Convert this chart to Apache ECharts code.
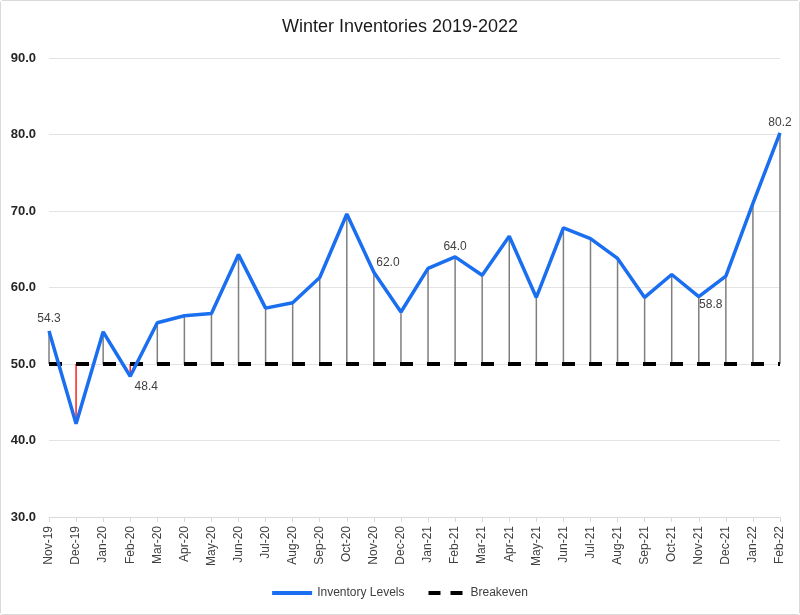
<!DOCTYPE html>
<html>
<head>
<meta charset="utf-8">
<script src="https://cdn.jsdelivr.net/npm/echarts@6/dist/echarts.min.js"></script>
<style>
html,body{margin:0;padding:0;background:#fff;}
#c{position:absolute;left:0;top:0;width:798px;height:613px;border:1px solid #d9d9d9;border-radius:3px;}
</style>
</head>
<body>
<div id="c"></div>
<script>
const categories = ["Nov-19","Dec-19","Jan-20","Feb-20","Mar-20","Apr-20","May-20","Jun-20","Jul-20","Aug-20","Sep-20","Oct-20","Nov-20","Dec-20","Jan-21","Feb-21","Mar-21","Apr-21","May-21","Jun-21","Jul-21","Aug-21","Sep-21","Oct-21","Nov-21","Dec-21","Jan-22","Feb-22"];
const inventoryLevels = [54.3,42.2,54.2,48.4,55.4,56.3,56.6,64.3,57.3,58.0,61.3,69.6,62.0,56.8,62.5,64.0,61.6,66.7,58.7,67.8,66.4,63.8,58.7,61.7,58.8,61.5,71.0,80.2];
const breakeven = [50,50,50,50,50,50,50,50,50,50,50,50,50,50,50,50,50,50,50,50,50,50,50,50,50,50,50,50];
const labeledMonths = ["Nov-19","Feb-20","Nov-20","Feb-21","Nov-21","Feb-22"];
const yTicks = [30,40,50,60,70,80,90];

const labelStyle = {
  "Nov-19": {position:'top', offset:[0,-2]},
  "Feb-20": {position:'bottom', offset:[16,0]},
  "Nov-20": {position:'top', offset:[14,0]},
  "Feb-21": {position:'top', offset:[0,0]},
  "Nov-21": {position:'bottom', offset:[12,-2]},
  "Feb-22": {position:'top', offset:[0,0]}
};

const hiddenItem = {color:'rgba(0,0,0,0)', borderWidth:0, borderColor:'rgba(0,0,0,0)'};
const lineData = inventoryLevels.map((v,i)=>{
  const c = categories[i];
  if (labeledMonths.includes(c)) {
    const s = labelStyle[c];
    return {value:v, itemStyle:hiddenItem, label:{show:true, position:s.position, offset:s.offset, distance:2, formatter:(p)=>Number(p.value).toFixed(1), color:'#404040', fontSize:12, fontFamily:'Liberation Sans'}};
  }
  return {value:v, itemStyle:hiddenItem};
});

const dropData = inventoryLevels.map((v,i)=>[i, v, breakeven[i]]);

const chart = echarts.init(document.getElementById('c'), null, {renderer:'canvas'});
chart.setOption({
  animation:false,
  backgroundColor:'#fff',
  title:{
    text:'Winter Inventories 2019-2022',
    left:'center', top:12,
    textStyle:{fontFamily:'Liberation Sans', fontWeight:'normal', fontSize:18, color:'#1a1a1a'}
  },
  legend:{
    bottom:10, left:'center', itemWidth:40, itemHeight:4, itemGap:24,
    textStyle:{fontFamily:'Liberation Sans', fontSize:12, color:'#404040'},
    data:[
      {name:'Inventory Levels', icon:'path://M0,0 L40,0 L40,4 L0,4 Z', itemStyle:{color:'#1a6ef0', opacity:1}},
      {name:'Breakeven', icon:'path://M0,0 L12,0 L12,4 L0,4 Z M22,0 L34,0 L34,4 L22,4 Z', itemStyle:{color:'#000', opacity:1}}
    ]
  },
  grid:{left:48, right:19, top:57, bottom:97, containLabel:false},
  xAxis:{
    type:'category', data:categories, boundaryGap:false,
    axisLine:{lineStyle:{color:'#d9d9d9'}},
    axisTick:{show:true, lineStyle:{color:'#d9d9d9'}, length:5},
    axisLabel:{rotate:90, color:'#404040', fontSize:12, fontFamily:'Liberation Sans', margin:9, interval:0},
    splitLine:{show:false}
  },
  yAxis:{
    type:'value', min:yTicks[0], max:yTicks[yTicks.length-1], interval:10,
    axisLine:{show:false}, axisTick:{show:false},
    axisLabel:{formatter:(v)=>v.toFixed(1), color:'#262626', fontWeight:'bold', fontSize:13, fontFamily:'Liberation Sans', margin:13},
    splitLine:{lineStyle:{color:'#e3e3e3', width:1}}
  },
  series:[
    {
      name:'drops', type:'custom', z:1, silent:true,
      data:dropData,
      encode:{x:0, y:1},
      renderItem:(params, api)=>{
        const i = api.value(0), v = api.value(1), b = api.value(2);
        const p1 = api.coord([i, b]);
        const p2 = api.coord([i, v]);
        return {type:'line', shape:{x1:p1[0], y1:p1[1], x2:p2[0], y2:p2[1]},
          style:{stroke: v < b ? '#ff1f1f' : '#7f7f7f', lineWidth:1.5}};
      }
    },
    {
      name:'Breakeven', type:'line', data:breakeven, z:2,
      symbol:'none', color:'#000',
      lineStyle:{color:'#000', width:4, type:[13,14]}
    },
    {
      name:'Inventory Levels', type:'line', data:lineData, z:3,
      symbol:'circle', symbolSize:4, showSymbol:true, showAllSymbol:true,
      color:'#1a6ef0',
      itemStyle:{color:'#1a6ef0'},
      lineStyle:{color:'#1a6ef0', width:3.5}
    }
  ]
});
</script>
</body>
</html>
